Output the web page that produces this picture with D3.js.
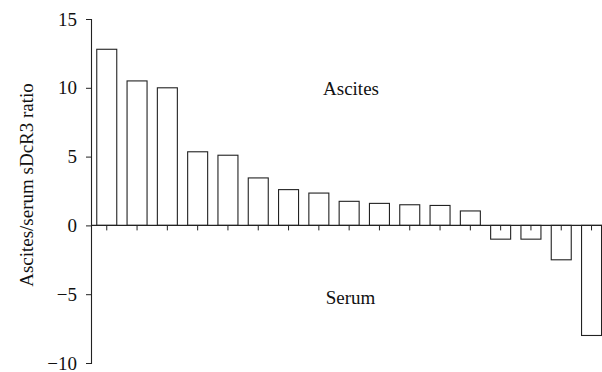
<!DOCTYPE html>
<html>
<head>
<meta charset="utf-8">
<script src="https://cdn.jsdelivr.net/npm/d3@7"></script>
<style>
  body { margin: 0; background: #fff; }
  svg text { font-family: "Liberation Serif", "DejaVu Serif", serif; fill: #111; }
</style>
</head>
<body>
<svg id="chart" width="602" height="372"></svg>
<script>
// Set dimensions
var width = 602,
    height = 372;

// Data
var patients = d3.range(1, 18);
var ratios = [12.8, 10.5, 10.0, 5.35, 5.1, 3.45, 2.6, 2.35, 1.75, 1.6, 1.5, 1.45, 1.05, -1.0, -1.0, -2.5, -8.0];
var yTicks = [-10, -5, 0, 5, 10, 15];
var yLabel = "Ascites/serum sDcR3 ratio";

var svg = d3.select("#chart");

// Scales
var x = d3.scaleBand()
    .domain(patients)
    .range([91, 607.3])
    .paddingInner(0.34)
    .paddingOuter(0.19);

var y = d3.scaleLinear()
    .domain([-10, 15])
    .range([363, 19]);

// Bars
svg.append("g")
    .selectAll("rect")
    .data(ratios)
    .enter()
    .append("rect")
    .attr("x", function(d, i) { return x(patients[i]); })
    .attr("y", function(d) { return y(Math.max(0, d)); })
    .attr("width", x.bandwidth())
    .attr("height", function(d) { return Math.abs(y(d) - y(0)); })
    .attr("fill", "#fff")
    .attr("stroke", "#222")
    .attr("stroke-width", 1.1);

// Y axis
var yAxis = svg.append("g")
    .attr("transform", "translate(91,0)")
    .call(d3.axisLeft(y).tickValues(yTicks).tickSize(5).tickPadding(9)
        .tickFormat(function(d) { return d < 0 ? "\u2212" + Math.abs(d) : d; }));
yAxis.select(".domain").attr("stroke", "#222").attr("stroke-width", 1.1);
yAxis.selectAll(".tick line").attr("stroke", "#222");
yAxis.selectAll("text").style("font-size", "19px").attr("fill", "#111");

// X axis (zero line, ticks pointing down)
var xAxis = svg.append("g")
    .attr("transform", "translate(0," + y(0) + ")")
    .call(d3.axisBottom(x).tickSize(5).tickSizeOuter(0).tickFormat(""));
xAxis.select(".domain").attr("d", "M91,0H602").attr("stroke", "#222").attr("stroke-width", 1.1);
xAxis.selectAll(".tick line").attr("stroke", "#222");

// Labels
svg.append("text")
    .attr("x", 351)
    .attr("y", 95)
    .attr("text-anchor", "middle")
    .style("font-size", "19px")
    .text("Ascites");

svg.append("text")
    .attr("x", 350.5)
    .attr("y", 304)
    .attr("text-anchor", "middle")
    .style("font-size", "19px")
    .text("Serum");

svg.append("text")
    .attr("transform", "translate(33,185)rotate(-90)")
    .attr("text-anchor", "middle")
    .style("font-size", "19px")
    .text(yLabel);
</script>
</body>
</html>
